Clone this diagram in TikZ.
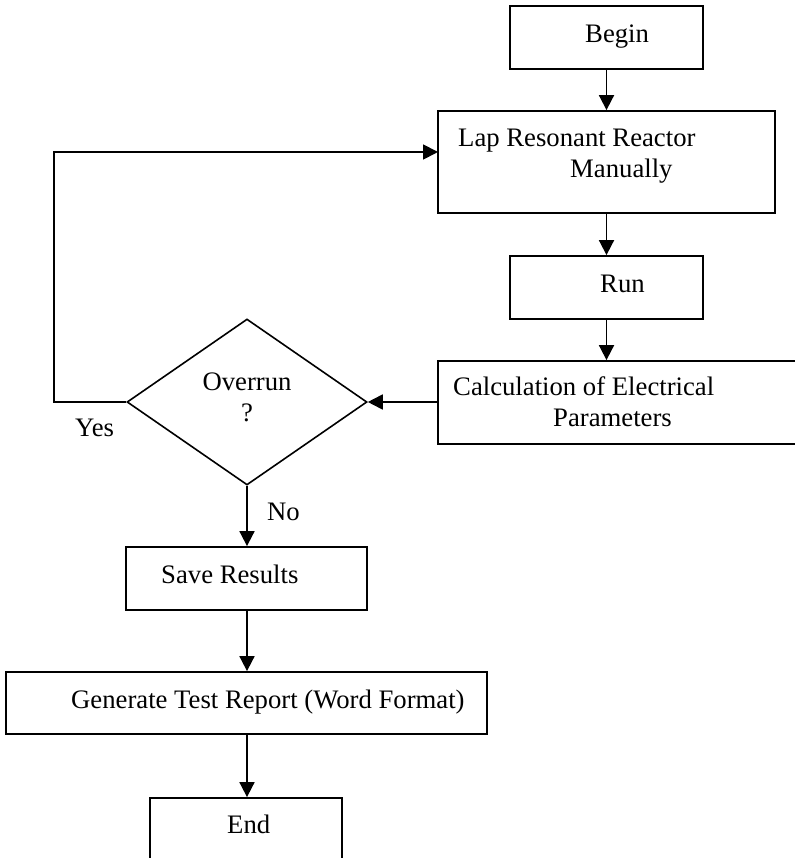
\documentclass[tikz,border=0pt]{standalone}
\usepackage{fontspec}
\setmainfont{Liberation Serif}
\usetikzlibrary{arrows.meta,shapes.geometric}
\begin{document}
\begin{tikzpicture}[x=1pt,y=-1pt,
  box/.style={draw,line width=1.8pt,rectangle,inner sep=0pt},
  decision/.style={draw,line width=1.6pt,diamond,inner sep=0pt,
    minimum width=240pt,minimum height=166pt},
  txt/.style={anchor=base west,inner sep=0pt,font=\fontsize{26.7}{31}\selectfont},
  arr/.style={line width=1.8pt,-{Triangle[length=15pt,width=15pt]}}]
\useasboundingbox (0,0) rectangle (794,858);
\fill[white] (0,0) rectangle (794,858);

% process boxes
\node[box,minimum width=193pt,minimum height=63pt]  (begin) at (606.5,37.5) {};
\node[box,minimum width=337pt,minimum height=102pt] (lap)   at (606.5,162)  {};
\node[box,minimum width=193pt,minimum height=63pt]  (run)   at (606.5,287.5) {};
\node[box,minimum width=358pt,minimum height=83pt]  (calc)  at (617,402.5)  {};
\node[decision] (dec) at (247,402) {};
\node[box,minimum width=241pt,minimum height=63pt]  (save)  at (246.5,578.5) {};
\node[box,minimum width=481pt,minimum height=62pt]  (gen)   at (246.5,703)  {};
\node[box,minimum width=192pt,minimum height=72pt]  (end)   at (246,834)    {};

% texts
\node[txt] (tbegin) at (585,43)  {Begin};
\node[txt] (tlap1)  at (458,147) {Lap Resonant Reactor};
\node[txt] (tlap2)  at (570,178) {Manually};
\node[txt] (trun)   at (600,292) {Run};
\node[txt] (tcalc1) at (453,395) {Calculation of Electrical};
\node[txt] (tcalc2) at (553,426) {Parameters};
\node[txt,anchor=base] (tover) at (247,390) {Overrun};
\node[txt,anchor=base] (tq)    at (247,421) {?};
\node[txt] (tyes)   at (75,436)  {Yes};
\node[txt] (tno)    at (267,520) {No};
\node[txt] (tsave)  at (161,583) {Save Results};
\node[txt] (tgen)   at (71,708)  {Generate Test Report (Word Format)};
\node[txt] (tend)   at (227,833) {End};

% connectors
\coordinate (loopcorner) at (54,402);
\coordinate (loopin) at (438,152);
\draw[arr] (begin.south) -- (begin.south |- lap.north);
\draw[arr] (lap.south) -- (lap.south |- run.north);
\draw[arr] (run.south) -- (run.south |- calc.north);
\draw[arr] (calc.west |- dec.east) -- (dec.east);
\draw[arr] (dec.west) -- (loopcorner) |- (loopin);
\draw[arr] (dec.south) -- (dec.south |- save.north);
\draw[arr] (dec.south |- save.south) -- (dec.south |- gen.north);
\draw[arr] (dec.south |- gen.south) -- (dec.south |- end.north);
\end{tikzpicture}
\end{document}
